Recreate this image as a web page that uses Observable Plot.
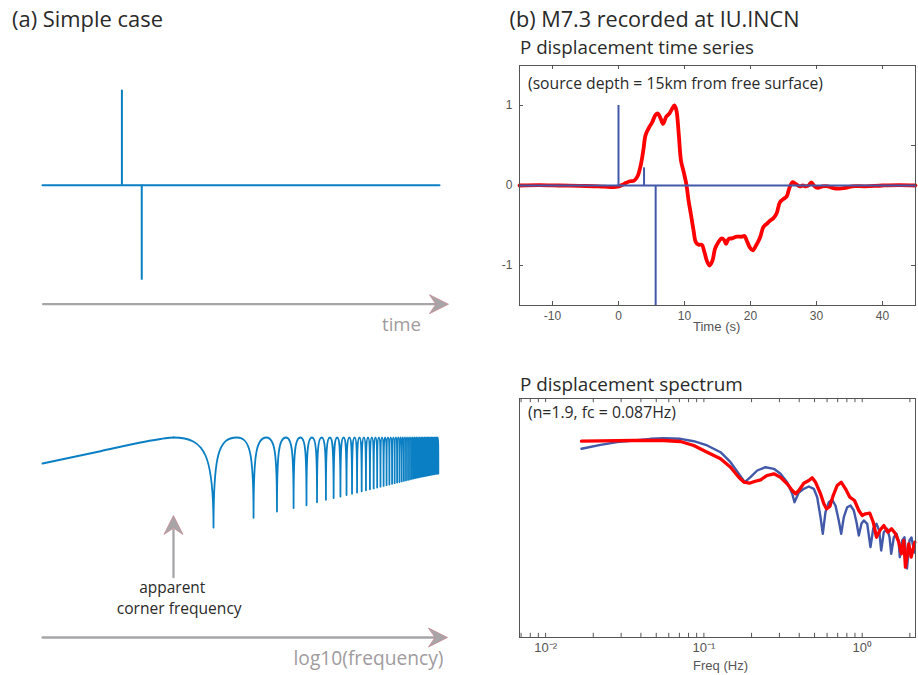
<!DOCTYPE html>
<html><head><meta charset="utf-8">
<script src="https://cdn.jsdelivr.net/npm/d3@7"></script>
<script src="https://cdn.jsdelivr.net/npm/@observablehq/plot@0.6"></script>
<style>
body{margin:0;background:#fff;}
#fig{position:relative;width:918px;height:675px;overflow:hidden;background:#fff;}
#fig svg{position:absolute;}
</style></head><body><div id="fig"></div>
<script>
// ================= DATA =================
// (a) simple case: two impulses of opposite polarity
const simpleTimeRange = [0, 20];
const simpleSpikeTime = [4, 5];
const simpleSpikeAmp = [1, -1];

// (a) schematic spectrum (log10 amplitude vs frequency in units of 1/delay)
const riseFreq = [0.0518, 0.1413, 0.2826, 0.4, 0.45, 0.5];
const riseLogAmp = [0.04, 0.163, 0.25, 0.285, 0.296, 0.3];
const notchFreq = [1,2,3,4,5,6,7,8,9,10,11,12,13,14,15,16,17,18,19,20,21,22,23,24,25,26,27,28,29,30,31,32,33,34,35,36,37,38,39,40,41,42,43,44,45,46,47,48,49];
const notchLogAmp = [-0.60,-0.503,-0.44,-0.405,-0.378,-0.348,-0.323,-0.305,-0.29,-0.275,-0.262,-0.25,-0.238,-0.228,-0.218,-0.209,-0.2,-0.192,-0.184,-0.177,-0.17,-0.163,-0.157,-0.151,-0.145,-0.139,-0.134,-0.129,-0.124,-0.119,-0.114,-0.11,-0.106,-0.102,-0.098,-0.094,-0.091,-0.088,-0.085,-0.082,-0.079,-0.076,-0.073,-0.07,-0.068,-0.066,-0.064,-0.062,-0.06];
const lobeTopLogAmp = 0.3;
const cornerFreq = 0.5;

// (b) P displacement time series
const timeTicks = [-10, 0, 10, 20, 30, 40];
const ampTicks = [-1, 0, 1];
const ampTicksRight = [-1, 0.5];
const greenFnTime = [0, 3.87, 5.63];
const greenFnAmp = [1, 0.22, -1.5];
const observedTrace = [
  [-15,0],[-12,0.005],[-9,0],[-6,-0.005],[-3,-0.01],[-1.2,-0.02],[0.1,-0.01],[0.85,0.02],[1.6,0.05],
  [2.36,0.06],[2.86,0.11],[3.36,0.25],[3.76,0.44],[4.1,0.63],[4.6,0.72],[5.1,0.79],[5.6,0.88],[5.97,0.9],
  [6.37,0.84],[6.77,0.77],[7.22,0.86],[7.72,0.9],[8.12,0.96],[8.47,1.0],[8.77,0.94],[9.12,0.65],[9.47,0.31],
  [9.87,0.17],[10.27,0.02],[10.62,-0.19],[10.97,-0.36],[11.37,-0.56],[11.72,-0.71],[12.13,-0.74],[12.63,-0.74],
  [12.98,-0.82],[13.38,-0.94],[13.78,-1.0],[14.23,-0.94],[14.63,-0.79],[15.13,-0.71],[15.63,-0.66],[16.0,-0.68],
  [16.3,-0.73],[16.68,-0.67],[17.18,-0.66],[17.93,-0.64],[18.69,-0.64],[19.09,-0.63],[19.44,-0.69],[19.94,-0.78],
  [20.34,-0.81],[20.84,-0.75],[21.45,-0.65],[21.95,-0.52],[22.45,-0.48],[22.95,-0.44],[23.45,-0.41],[23.95,-0.35],
  [24.46,-0.21],[24.96,-0.17],[25.46,-0.14],[25.86,-0.04],[26.36,0.04],[26.86,0.02],[27.46,-0.01],[27.9,0],
  [28.4,-0.01],[28.8,0],[29.2,0.04],[29.7,-0.01],[30.2,-0.03],[30.9,-0.01],[31.7,-0.01],[32.4,-0.03],[33.4,-0.04],
  [34.4,-0.03],[35.4,-0.01],[37.4,-0.01],[40,0],[42.5,0.005],[45,0]
];

// (b) P displacement spectrum: [frequency Hz, log10 relative amplitude]
const freqTicks = [0.01, 0.1, 1];
const freqTickLabels = ["10\u207B\u00B2", "10\u207B\u00B9", "10\u2070"];
const modelSpectrum = [
  [0.01686,-0.138],[0.02223,-0.072],[0.02831,-0.028],[0.03606,0],[0.04603,0.028],[0.05584,0.038],[0.07112,0.028],
  [0.0863,-0.012],[0.1049,-0.083],[0.1274,-0.195],[0.1473,-0.362],[0.1661,-0.555],[0.1813,-0.695],[0.1968,-0.612],
  [0.2172,-0.5],[0.2449,-0.445],[0.2767,-0.472],[0.3048,-0.555],[0.3357,-0.695],[0.3614,-0.888],[0.3733,-1.028],
  [0.3979,-0.867],[0.4277,-0.805],[0.46,-0.767],[0.4946,-0.805],[0.5196,-0.945],[0.5454,-1.278],[0.5637,-1.555],
  [0.5861,-1.195],[0.6152,-1.028],[0.6457,-0.988],[0.6776,-1.083],[0.7112,-1.333],[0.7365,-1.555],[0.7656,-1.278],
  [0.8036,-1.112],[0.8435,-1.083],[0.8851,-1.167],[0.9204,-1.362],[0.9517,-1.583],[0.99,-1.383],[1.0236,-1.333],
  [1.0755,-1.388],[1.128,-1.778],[1.174,-1.467],[1.231,-1.388],[1.28,-1.5],[1.318,-1.833],[1.369,-1.528],
  [1.439,-1.472],[1.488,-1.612],[1.525,-1.888],[1.584,-1.612],[1.647,-1.555],[1.696,-1.667],[1.728,-1.945],
  [1.789,-1.667],[1.85,-1.612],[1.919,-2.133],[1.99,-1.667],[2.048,-1.617],[2.11,-1.8],[2.149,-1.867]
];
const observedSpectrum = [
  [0.01686,-0.012],[0.02223,-0.005],[0.03606,0],[0.04603,0],[0.05584,0],[0.07112,-0.017],[0.0863,-0.083],
  [0.1049,-0.195],[0.1274,-0.305],[0.1473,-0.445],[0.1661,-0.612],[0.1795,-0.695],[0.1938,-0.712],[0.2085,-0.683],
  [0.2282,-0.655],[0.2509,-0.583],[0.2767,-0.555],[0.3048,-0.612],[0.3357,-0.722],[0.3614,-0.833],[0.3794,-0.888],
  [0.3979,-0.833],[0.4277,-0.712],[0.46,-0.667],[0.4831,-0.622],[0.5072,-0.695],[0.5454,-0.888],[0.5722,-1.055],
  [0.5949,-1.138],[0.6242,-1.1],[0.6556,-0.917],[0.6949,-0.75],[0.7365,-0.695],[0.7844,-0.805],[0.835,-0.945],
  [0.8941,-1.0],[0.9517,-1.167],[1.0,-1.25],[1.049,-1.222],[1.117,-1.212],[1.174,-1.362],[1.231,-1.612],
  [1.292,-1.5],[1.369,-1.417],[1.451,-1.528],[1.532,-1.472],[1.623,-1.555],[1.702,-1.695],[1.77,-1.888],
  [1.831,-1.667],[1.876,-2.112],[1.967,-1.722],[2.038,-1.945],[2.149,-1.695]
];

// ================= STYLES =================
const blueA = "#0a7fc3";
const blueB = "#4259a9";
const redB = "#ff0000";
const arrowGray = "#a7a5a8";
const headStroke = "#c98a93";
const axisGray = "#555555";
const tickFont = "'Liberation Sans', Arial, Helvetica, sans-serif";

const fig = document.getElementById("fig");
function place(svg, left, top) { svg.style.left = left + "px"; svg.style.top = top + "px"; fig.appendChild(svg); }

// filled concave arrowheads (tip at the dot position)
const arrowRight = {draw(c) { c.moveTo(0,0); c.lineTo(-19,-9.5); c.lineTo(-12.5,0); c.lineTo(-19,9.5); c.closePath(); }};
const arrowUp = {draw(c) { c.moveTo(0,0); c.lineTo(-9.5,19); c.lineTo(0,12.5); c.lineTo(9.5,19); c.closePath(); }};

// arch curve: vertical tangent at notches, horizontal tangent at lobe tops
function archCurve(context) {
  let px, py, n = 0;
  const k = 0.8;
  return {
    areaStart() {}, areaEnd() {},
    lineStart() { n = 0; },
    lineEnd() {},
    point(x, y) {
      x = +x; y = +y;
      if (n++ === 0) context.moveTo(x, y);
      else if (y < py) context.bezierCurveTo(px, py + k * (y - py), x - k * (x - px), y, x, y);
      else context.bezierCurveTo(px + k * (x - px), py, x, y - k * (y - py), x, y);
      px = x; py = y;
    }
  };
}

// ================= (a) top: time series =================
const spikes = simpleSpikeTime.map((t, i) => ({t, a: simpleSpikeAmp[i]}));
const tArrowY = -1.2526;
const tl = Plot.plot({
  width: 460, height: 300, marginLeft: 42, marginRight: 21, marginTop: 29.7, marginBottom: 80.3,
  x: {domain: simpleTimeRange, axis: null, label: null},
  y: {domain: [-1, 1], axis: null, label: null},
  style: {background: "transparent", overflow: "visible"},
  marks: [
    Plot.line(simpleTimeRange.map(t => ({t, a: 0})), {x: "t", y: "a", stroke: blueA, strokeWidth: 2}),
    Plot.ruleX(spikes, {x: "t", y1: 0, y2: "a", stroke: blueA, strokeWidth: 2}),
    Plot.line([{t: 0.03, a: tArrowY}, {t: 20.05, a: tArrowY}], {x: "t", y: "a", stroke: arrowGray, strokeWidth: 2.3}),
    Plot.dot([{t: 20.45, a: tArrowY}], {x: "t", y: "a", symbol: arrowRight, r: 5, fill: arrowGray, stroke: headStroke, strokeWidth: 0.8})
  ]
});
place(tl, 0, 60);

// ================= (a) bottom: schematic spectrum =================
const rise = riseFreq.map((f, i) => ({f, v: riseLogAmp[i]}));
const lobes = [{f: cornerFreq, v: lobeTopLogAmp}];
notchFreq.forEach((f, i) => {
  lobes.push({f, v: notchLogAmp[i]});
  if (i < notchFreq.length - 1) lobes.push({f: (f + notchFreq[i + 1]) / 2, v: lobeTopLogAmp});
});
const fArrowY = -1.7;
const bl = Plot.plot({
  width: 460, height: 275, marginLeft: 42, marginRight: 21, marginTop: 17, marginBottom: 108,
  x: {type: "log", domain: [0.0518, 50], axis: null, label: null},
  y: {domain: [-1.0, 0.5], axis: null, label: null},
  style: {background: "transparent", overflow: "visible"},
  marks: [
    Plot.line(rise, {x: "f", y: "v", stroke: blueA, strokeWidth: 2, curve: "monotone-x"}),
    Plot.line(lobes, {x: "f", y: "v", stroke: blueA, strokeWidth: 1.8, curve: archCurve}),
    Plot.line([{f: 0.0518, v: fArrowY}, {f: 50.9, v: fArrowY}], {x: "f", y: "v", stroke: arrowGray, strokeWidth: 2.3}),
    Plot.dot([{f: 57.4, v: fArrowY}], {x: "f", y: "v", symbol: arrowRight, r: 5, fill: arrowGray, stroke: headStroke, strokeWidth: 0.8}),
    Plot.line([{f: cornerFreq, v: -1.097}, {f: cornerFreq, v: -0.62}], {x: "f", y: "v", stroke: arrowGray, strokeWidth: 2.3}),
    Plot.dot([{f: cornerFreq, v: -0.48}], {x: "f", y: "v", symbol: arrowUp, r: 5, fill: arrowGray, stroke: headStroke, strokeWidth: 0.8})
  ]
});
place(bl, 0, 400);

// ================= (b) top: time series =================
const greenFn = greenFnTime.map((t, i) => ({t, a: greenFnAmp[i]}));
const obs = observedTrace.map(([t, a]) => ({t, a}));
const tr = Plot.plot({
  width: 438, height: 290, marginLeft: 39, marginRight: 3, marginTop: 10, marginBottom: 40,
  x: {domain: [-15, 45], label: null},
  y: {domain: [-1.5, 1.5], label: null},
  style: {fontFamily: tickFont, fontSize: "12px", color: axisGray, background: "transparent", overflow: "visible"},
  marks: [
    Plot.axisX(timeTicks, {tickSize: 0, tickPadding: 6, label: null, tickFormat: d => String(d)}),
    Plot.axisY(ampTicks, {tickSize: 0, tickPadding: 7, label: null, tickFormat: d => String(d)}),
    Plot.ruleX(timeTicks, {x: d => d, y1: -1.5, y2: -1.45, stroke: axisGray}),
    Plot.ruleX(timeTicks, {x: d => d, y1: 1.5, y2: 1.45, stroke: axisGray}),
    Plot.ruleY(ampTicks, {y: d => d, x1: -15, x2: -14.4, stroke: axisGray}),
    Plot.ruleY(ampTicksRight, {y: d => d, x1: 45, x2: 44.4, stroke: axisGray}),
    Plot.line(obs, {x: "t", y: "a", stroke: redB, strokeWidth: 3.8, curve: "catmull-rom"}),
    Plot.line([{t: -15, a: 0}, {t: 45, a: 0}], {x: "t", y: "a", stroke: blueB, strokeWidth: 2}),
    Plot.ruleX(greenFn, {x: "t", y1: 0, y2: "a", stroke: blueB, strokeWidth: 2}),
    Plot.frame({stroke: axisGray, strokeWidth: 1})
  ]
});
place(tr, 480, 55);

// ================= (b) bottom: spectrum =================
const fDomain = [0.006841, 2.171];
const freqMinor = d3.scaleLog().domain(fDomain).ticks();
const yDom = [-3.2833, 0.7];
const model = modelSpectrum.map(([f, v]) => ({f, v}));
const obsSp = observedSpectrum.map(([f, v]) => ({f, v}));
const br = Plot.plot({
  width: 438, height: 285, marginLeft: 39, marginRight: 3, marginTop: 8, marginBottom: 38,
  x: {type: "log", domain: fDomain, label: null},
  y: {domain: yDom, axis: null, label: null},
  style: {fontFamily: tickFont, fontSize: "12px", color: axisGray, background: "transparent", overflow: "visible"},
  marks: [
    Plot.axisX(freqTicks, {tickSize: 0, tickPadding: 5, fontSize: 13, label: null, tickFormat: d => freqTickLabels[freqTicks.indexOf(d)]}),
    Plot.ruleX(freqMinor, {x: d => d, y1: yDom[0], y2: yDom[0] + 0.07, stroke: axisGray}),
    Plot.ruleX(freqMinor, {x: d => d, y1: yDom[1], y2: yDom[1] - 0.07, stroke: axisGray}),
    Plot.line(model, {x: "f", y: "v", stroke: blueB, strokeWidth: 2.4}),
    Plot.line(obsSp, {x: "f", y: "v", stroke: redB, strokeWidth: 3.3}),
    Plot.frame({stroke: axisGray, strokeWidth: 1})
  ]
});
place(br, 480, 390);

// ================= text overlay =================
const overlay = d3.select(fig).append("svg")
  .attr("width", 918).attr("height", 675)
  .style("left", "0px").style("top", "0px").style("pointer-events", "none");
const mainFont = "'Open Sans', 'Noto Sans', sans-serif";
function label(str, x, baseline, targetW, opts = {}) {
  const {anchor = "start", fill = "#2a2a2a", family = mainFont} = opts;
  const t = overlay.append("text")
    .attr("x", x).attr("y", baseline).attr("text-anchor", anchor).attr("fill", fill)
    .style("font-family", family).style("font-size", "100px").text(str);
  const w = t.node().getComputedTextLength();
  t.style("font-size", (100 * targetW / w).toFixed(2) + "px");
}
label("(a) Simple case", 12, 27.3, 151);
label("(b) M7.3 recorded at IU.INCN", 509.5, 26.7, 290);
label("P displacement time series", 520, 54.3, 234);
label("(source depth = 15km from free surface)", 528, 89.3, 295);
label("P displacement spectrum", 520, 390.7, 223);
label("(n=1.9, fc = 0.087Hz)", 528, 418.3, 148);
label("time", 421, 331, 39, {anchor: "end", fill: "#a09b9e"});
label("log10(frequency)", 443.5, 665, 150, {anchor: "end", fill: "#a09b9e"});
label("apparent", 172.3, 592.7, 66, {anchor: "middle"});
label("corner frequency", 179.2, 613.5, 125, {anchor: "middle"});
label("Time (s)", 716.7, 330.5, 47.5, {anchor: "middle", fill: "#555", family: tickFont});
label("Freq (Hz)", 720.5, 669.5, 55, {anchor: "middle", fill: "#555", family: tickFont});
</script></body></html>
